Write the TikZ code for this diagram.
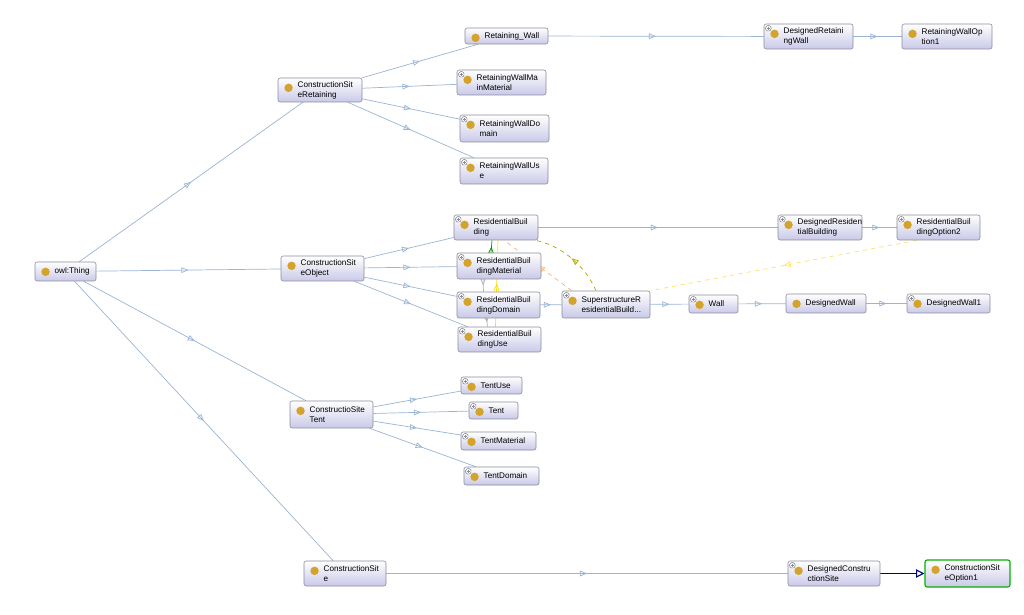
\documentclass[tikz,border=0pt]{standalone}
\usepackage{fontspec}
\setmainfont{Liberation Sans}
\usetikzlibrary{arrows.meta, decorations.markings, calc, positioning, backgrounds}
\definecolor{edge}{HTML}{9BB4D4}
\definecolor{dotc}{HTML}{D4A32C}
\definecolor{boxb}{HTML}{C9C9E8}
\definecolor{boxd}{HTML}{8A8A9E}
\tikzstyle{cls}=[rectangle, rounded corners=1.5pt, draw=boxd, top color=white,
  bottom color=boxb, align=left, inner sep=2pt,
  font=\fontsize{5.8}{7}\selectfont,
  path picture={\fill[dotc] ($(path picture bounding box.north west)+(7.5pt,-7pt)$)
    circle (3pt);}]
\tikzstyle{xp}=[path picture={\fill[dotc] ($(path picture bounding box.north west)+(7.5pt,-7pt)$)
    circle (3pt);
    \draw[black!60,fill=white,line width=0.3pt] ($(path picture bounding box.north west)+(1.2pt,-1.2pt)$)
    rectangle ($(path picture bounding box.north west)+(5pt,-5pt)$);
    \draw[line width=0.35pt] ($(path picture bounding box.north west)+(1.9pt,-3.1pt)$)
    -- ($(path picture bounding box.north west)+(4.3pt,-3.1pt)$)
    ($(path picture bounding box.north west)+(3.1pt,-1.9pt)$)
    -- ($(path picture bounding box.north west)+(3.1pt,-4.3pt)$);}]
\tikzstyle{isa}=[draw=edge, line width=0.5pt, postaction={decorate},
  decoration={markings, mark=at position 0.5 with
    {\arrow{Triangle[open, length=5pt, width=4pt]}}}]
\newcommand{\lbl}[2]{\hspace*{12pt}\mbox{#1}\ifx&#2&\else\\\hspace*{12pt}\mbox{#2}\fi}
\tikzset{w/.style={text width=#1*0.025cm-4pt}, h/.style={minimum height=#1*0.025cm}}

\begin{document}
\begin{tikzpicture}[x=0.025cm, y=-0.025cm]
  \useasboundingbox (0,0) rectangle (1024,615);

  % classes
  \node[cls, w=61, h=19] (thing) at (65.5,271.5) {\lbl{owl:Thing}{}};

  \node[cls, w=84, h=24] (ret) at (320,90) {\lbl{ConstructionSit}{eRetaining}};
  \node[cls, w=83, h=16] (rwall) at (506.5,36) {\lbl{Retaining\_Wall}{}};
  \node[cls, xp, w=89, h=25] (rmat) at (501.5,82.5) {\lbl{RetainingWallMa}{inMaterial}};
  \node[cls, xp, w=89, h=27] (rdom) at (504.5,128.5) {\lbl{RetainingWallDo}{main}};
  \node[cls, xp, w=88, h=26] (ruse) at (504,171) {\lbl{RetainingWallUs}{e}};
  \node[cls, xp, w=89, h=25] (dret) at (808.5,36.5) {\lbl{DesignedRetaini}{ngWall}};
  \node[cls, w=90, h=25] (ropt) at (947,36.5) {\lbl{RetainingWallOp}{tion1}};

  \node[cls, w=83, h=25] (obj) at (322.5,268.5) {\lbl{ConstructionSit}{eObject}};
  \node[cls, xp, w=84, h=25] (rb) at (496,227.5) {\lbl{ResidentialBuil}{ding}};
  \node[cls, xp, w=84, h=26] (rbm) at (499,266) {\lbl{ResidentialBuil}{dingMaterial}};
  \node[cls, xp, w=83, h=26] (rbd) at (498.5,305) {\lbl{ResidentialBuil}{dingDomain}};
  \node[cls, xp, w=83, h=25] (rbu) at (499.5,339.5) {\lbl{ResidentialBuil}{dingUse}};
  \node[cls, xp, w=88, h=27] (sup) at (606,304.5) {\lbl{SuperstructureR}{esidentialBuild...}};
  \node[cls, xp, w=49, h=18] (wall) at (713.5,304) {\lbl{Wall}{}};
  \node[cls, w=80, h=19] (dwall) at (826,303.5) {\lbl{DesignedWall}{}};
  \node[cls, xp, w=83, h=19] (dwall1) at (948.5,303.5) {\lbl{DesignedWall1}{}};
  \node[cls, xp, w=84, h=25] (drb) at (820,227.5) {\lbl{DesignedResiden}{tialBuilding}};
  \node[cls, xp, w=83, h=25] (rbo) at (938.5,227.5) {\lbl{ResidentialBuil}{dingOption2}};

  \node[cls, w=83, h=27] (tent) at (331.5,414.5) {\lbl{ConstructioSite}{Tent}};
  \node[cls, xp, w=61, h=17] (tuse) at (491.5,385.5) {\lbl{TentUse}{}};
  \node[cls, xp, w=49, h=17] (tnt) at (493.5,410.5) {\lbl{Tent}{}};
  \node[cls, xp, w=75, h=18] (tmat) at (498.5,441) {\lbl{TentMaterial}{}};
  \node[cls, xp, w=75, h=18] (tdom) at (501.5,476) {\lbl{TentDomain}{}};

  \node[cls, w=82, h=25] (site) at (345,573.5) {\lbl{ConstructionSit}{e}};
  \node[cls, xp, w=92, h=25] (dsite) at (834,573.5) {\lbl{DesignedConstru}{ctionSite}};
  \node[cls, w=85, h=27, draw=green!70!black, line width=0.8pt] (sopt) at (967.5,573.5)
    {\lbl{ConstructionSit}{eOption1}};

  \begin{scope}[on background layer]
  % subclass links
  \foreach \a/\b in {thing/ret, thing/obj, thing/tent, thing/site,
      ret/rwall, ret/rmat, ret/rdom, ret/ruse, rwall/dret, dret/ropt,
      obj/rb, obj/rbm, obj/rbd, obj/rbu, rb/drb, drb/rbo,
      rbd/sup, sup/wall, wall/dwall, dwall/dwall1,
      tent/tuse, tent/tnt, tent/tmat, tent/tdom, site/dsite}{
    \path[isa] (\a) -- (\b);
  }
  \draw[-{Triangle[open, length=6pt, width=6pt]}, blue!50!black, line width=0.8pt]
    (dsite) -- (sopt);

  % other relations
  \path[isa, draw=olive!70!yellow, dashed]
    ($(sup.north)+(-10,0)$) .. controls (585,265) and (560,245) .. ($(rb.south east)+(-3,0)$);
  \path[isa, draw=yellow!70!orange!60, dashed] ($(rbo.south west)+(20,0)$) -- (sup.north east);
  \path[isa, draw=orange!60, dashed] ($(sup.north west)+(10,0)$) -- ($(rb.south)+(8,0)$);
  \path[isa, draw=green!60!black] ($(rbm.north)+(-8,0)$) -- ($(rb.south)+(-4,0)$);
  \path[isa, draw=yellow!80!orange] ($(rbu.north)+(-4,0)$) -- ($(rb.south)+(2,0)$);
  \path[isa, draw=gray!60] ($(rbm.south)+(-16,0)$) -- ($(rbd.north)+(-15,0)$);
  \path[isa, draw=gray!60] ($(rbd.south)+(-12,0)$) -- ($(rbu.north)+(-12,0)$);
  \end{scope}
\end{tikzpicture}
\end{document}
